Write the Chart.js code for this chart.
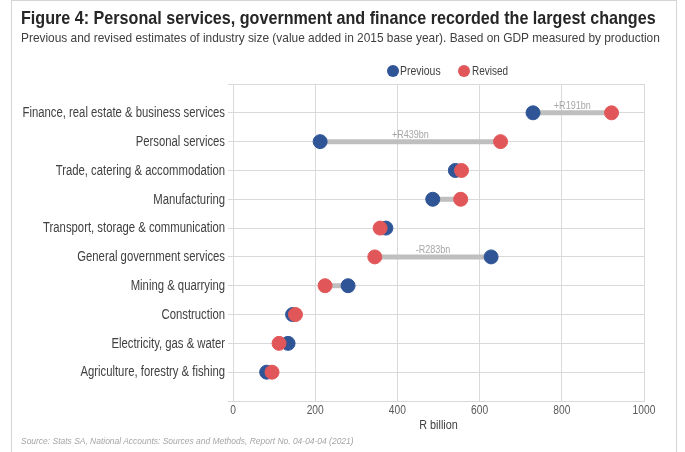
<!DOCTYPE html>
<html>
<head>
<meta charset="utf-8">
<script src="https://cdn.jsdelivr.net/npm/chart.js@4.4.1/dist/chart.umd.min.js"></script>
<style>
  body { margin: 0; background: #fff; }
  .wrap { position: relative; width: 685px; height: 452px; overflow: hidden; font-family: "Liberation Sans", Arial, sans-serif; }
  .frame { position: absolute; left: 11px; top: 0; width: 666px; height: 470px; border: 1px solid #d4d4d4; box-sizing: border-box; }
  canvas { position: absolute; left: 0; top: 0; }
  .fit { position: absolute; white-space: nowrap; transform-origin: 0 0; }
  .title { left: 21px; top: 7px; font-size: 19px; font-weight: bold; color: #262626; }
  .subtitle { left: 21px; top: 30px; font-size: 13px; color: #404040; }
  .dot { position: absolute; top: 65px; width: 12px; height: 12px; border-radius: 50%; }
  .legend { top: 63px; font-size: 13px; color: #404040; }
  .source { left: 21px; top: 435px; font-size: 9.5px; font-style: italic; color: #a6a6a6; }
</style>
</head>
<body>
<div class="wrap">
  <div class="frame"></div>
  <canvas id="myChart" width="685" height="452"></canvas>
  <div class="fit title" data-w="635">Figure 4: Personal services, government and finance recorded the largest changes</div>
  <div class="fit subtitle" data-w="639">Previous and revised estimates of industry size (value added in 2015 base year). Based on GDP measured by production</div>
  <div class="dot" style="left:387px;background:#2f5597"></div>
  <div class="fit legend" style="left:400px" data-w="41">Previous</div>
  <div class="dot" style="left:458px;background:#e15759"></div>
  <div class="fit legend" style="left:472px" data-w="36">Revised</div>
  <div class="fit source" data-w="333">Source: Stats SA, National Accounts: Sources and Methods, Report No. 04-04-04 (2021)</div>
</div>
<script>
// data (R billion)
const industries = [
    'Finance, real estate & business services',
    'Personal services',
    'Trade, catering & accommodation',
    'Manufacturing',
    'Transport, storage & communication',
    'General government services',
    'Mining & quarrying',
    'Construction',
    'Electricity, gas & water',
    'Agriculture, forestry & fishing'
]
const previous = [730, 212, 541, 486, 372, 628, 280, 145, 134, 82]
const revised = [921, 651, 556, 554, 358, 345, 224, 152, 112, 95]
const changeLabels = ['+R191bn', '+R439bn', '', '', '', '-R283bn', '', '', '', '']
const xTicks = [0, 200, 400, 600, 800, 1000]

const blue = '#2f5597'
const red = '#e15759'
const font = '"Liberation Sans", Arial, sans-serif'
const squeeze = 0.82 // the original uses a narrow face

document.querySelectorAll('.fit').forEach(el => {
    const w = Number(el.dataset.w)
    el.style.transform = 'scaleX(' + (w / el.offsetWidth) + ')'
})

const ctx = document.querySelector('#myChart').getContext('2d')

const narrowText = (c, txt, x, y, align) => {
    c.save()
    c.translate(x, y)
    c.scale(squeeze, 1)
    c.textAlign = align
    c.fillText(txt, 0, 0)
    c.restore()
}

// grey bars joining the two estimates
const connectors = industries.map((name, i) => ({
    label: 'gap ' + name,
    data: [{ x: previous[i], y: i + 1 }, { x: revised[i], y: i + 1 }],
    showLine: true,
    borderColor: '#bfbfbf',
    borderWidth: 5,
    pointRadius: 0,
    order: 2
}))

const labelsPlugin = {
    id: 'narrowLabels',
    afterDraw: (chart) => {
        const { ctx, scales, chartArea } = chart
        ctx.save()
        ctx.textBaseline = 'middle'

        // industry names
        ctx.font = '13.8px ' + font
        ctx.fillStyle = '#404040'
        industries.forEach((name, i) => {
            narrowText(ctx, name, chartArea.left - 8, scales.y.getPixelForValue(i + 1) + 0.5, 'right')
        })

        // x ticks and axis title
        ctx.font = '12.5px ' + font
        ctx.fillStyle = '#595959'
        xTicks.forEach(v => {
            narrowText(ctx, String(v), scales.x.getPixelForValue(v), chartArea.bottom + 10, 'center')
        })
        ctx.font = '13.2px ' + font
        ctx.fillStyle = '#404040'
        narrowText(ctx, 'R billion', (chartArea.left + chartArea.right) / 2, chartArea.bottom + 24, 'center')

        // change annotations
        ctx.font = '11px ' + font
        ctx.fillStyle = '#a6a6a6'
        changeLabels.forEach((txt, i) => {
            if (!txt) return
            const x = scales.x.getPixelForValue((previous[i] + revised[i]) / 2)
            narrowText(ctx, txt, x, scales.y.getPixelForValue(i + 1) - 7, 'center')
        })
        ctx.restore()
    }
}

const config = {
    type: 'scatter',
    data: {
        datasets: [
            {
                label: 'Revised',
                data: revised.map((v, i) => ({ x: v, y: i + 1 })),
                backgroundColor: red,
                borderColor: red,
                pointRadius: 7,
                order: 0
            },
            {
                label: 'Previous',
                data: previous.map((v, i) => ({ x: v, y: i + 1 })),
                backgroundColor: blue,
                borderColor: blue,
                pointRadius: 7,
                order: 1
            },
            ...connectors
        ]
    },
    plugins: [labelsPlugin],
    options: {
        responsive: false,
        animation: false,
        layout: { padding: { left: 0, right: 41, top: 84, bottom: 20 } },
        plugins: {
            legend: { display: false },
            tooltip: { enabled: false }
        },
        scales: {
            x: {
                type: 'linear',
                min: 0,
                max: 1000,
                afterBuildTicks: (scale) => { scale.ticks = xTicks.map(v => ({ value: v })) },
                afterFit: (scale) => { scale.height = 31 },
                grid: { color: '#d9d9d9', drawTicks: false },
                border: { color: '#d9d9d9' },
                ticks: { callback: () => '' }
            },
            y: {
                type: 'linear',
                reverse: true,
                min: 0,
                max: 11,
                afterBuildTicks: (scale) => {
                    scale.ticks = []
                    for (let v = 0; v <= 11; v++) scale.ticks.push({ value: v })
                },
                afterFit: (scale) => { scale.width = 233 },
                grid: { color: '#d9d9d9', tickLength: 5 },
                border: { color: '#d9d9d9' },
                ticks: { callback: () => '' }
            }
        }
    }
}

const myChart = new Chart(ctx, config)
</script>
</body>
</html>
